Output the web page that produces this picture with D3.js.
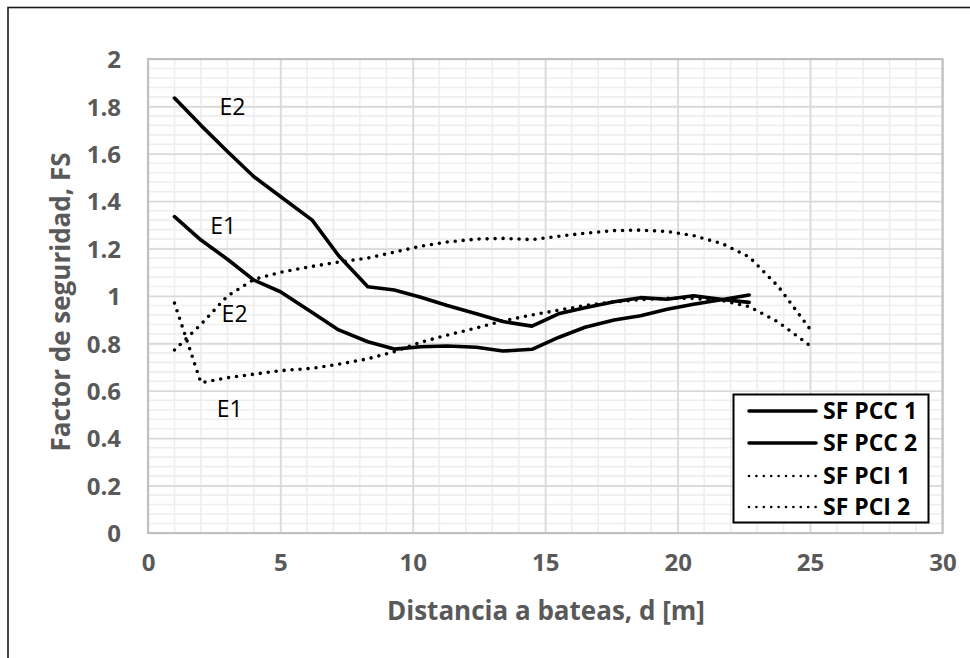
<!DOCTYPE html>
<html><head><meta charset="utf-8">
<script src="https://cdn.jsdelivr.net/npm/d3@7"></script>
<style>
  body { margin: 0; background: #fff; }
  svg { display: block; }
</style>
</head><body>
<svg id="chart" width="970" height="658"></svg>
<script>
// Distances to the bateas [m]
const distPCC = [1, 2, 3, 4, 5, 6.2, 7.2, 8.3, 9.3, 10.3, 11.3, 12.4, 13.4, 14.5, 15.5, 16.5, 17.6, 18.6, 19.6, 20.6, 21.7, 22.7];
const distPCI = [1, 2, 3, 4, 5, 6.2, 7.2, 8.3, 9.3, 10.3, 11.3, 12.4, 13.4, 14.5, 15.5, 16.5, 17.6, 18.6, 19.6, 20.6, 21.7, 22.7, 23.8, 25];

// Safety factor series
const sfPCC1 = [1.335, 1.236, 1.155, 1.067, 1.018, 0.93, 0.857, 0.807, 0.776, 0.786, 0.789, 0.784, 0.768, 0.775, 0.825, 0.868, 0.899, 0.917, 0.944, 0.965, 0.985, 1.004];
const sfPCC2 = [1.835, 1.72, 1.61, 1.503, 1.42, 1.32, 1.17, 1.039, 1.025, 0.995, 0.96, 0.925, 0.892, 0.873, 0.925, 0.95, 0.976, 0.993, 0.986, 1.001, 0.985, 0.973];
const sfPCI1 = [0.97, 0.634, 0.655, 0.67, 0.685, 0.695, 0.712, 0.735, 0.765, 0.805, 0.835, 0.865, 0.895, 0.92, 0.94, 0.96, 0.975, 0.985, 0.99, 0.99, 0.98, 0.955, 0.89, 0.79];
const sfPCI2 = [0.772, 0.88, 1.0, 1.07, 1.1, 1.125, 1.143, 1.16, 1.185, 1.21, 1.228, 1.24, 1.243, 1.238, 1.252, 1.265, 1.276, 1.278, 1.272, 1.255, 1.22, 1.165, 1.04, 0.86];

const seriesNames = ["SF PCC 1", "SF PCC 2", "SF PCI 1", "SF PCI 2"];
const xTicks = [0, 5, 10, 15, 20, 25, 30];
const yTicks = [0, 0.2, 0.4, 0.6, 0.8, 1, 1.2, 1.4, 1.6, 1.8, 2];

// Curve annotations: [label, distance, FS]
const annotations = [
  ["E2", 2.7, 1.765],
  ["E1", 2.35, 1.26],
  ["E2", 2.78, 0.889],
  ["E1", 2.6, 0.49]
];

const series = [
  { name: seriesNames[0], d: distPCC, v: sfPCC1, dotted: false },
  { name: seriesNames[1], d: distPCC, v: sfPCC2, dotted: false },
  { name: seriesNames[2], d: distPCI, v: sfPCI1, dotted: true },
  { name: seriesNames[3], d: distPCI, v: sfPCI2, dotted: true }
];

const FONT = "'Open Sans', 'DejaVu Sans', sans-serif";
const svg = d3.select("#chart");

const x = d3.scaleLinear().domain([0, 30]).range([148, 942.5]);
const y = d3.scaleLinear().domain([0, 2]).range([533, 59]);

// outer frame
svg.append("rect")
  .attr("x", 8).attr("y", 7.5).attr("width", 980).attr("height", 680)
  .attr("fill", "none").attr("stroke", "#1a1a1a").attr("stroke-width", 1.6);

const grid = svg.append("g");
// minor grid
grid.selectAll("line.vmin").data(d3.range(1, 30)).join("line")
  .attr("x1", d => x(d)).attr("x2", d => x(d)).attr("y1", y(0)).attr("y2", y(2))
  .attr("stroke", "#eeeeee").attr("stroke-width", 1.6);
grid.selectAll("line.hmin").data(d3.range(1, 50).map(i => i * 0.04)).join("line")
  .attr("y1", d => y(d)).attr("y2", d => y(d)).attr("x1", x(0)).attr("x2", x(30))
  .attr("stroke", "#eeeeee").attr("stroke-width", 1.6);

// major grid via axes
grid.append("g").attr("transform", `translate(0,${y(0)})`)
  .call(d3.axisBottom(x).tickValues(xTicks).tickSize(-(y(0) - y(2))).tickFormat(""))
  .call(g => g.select(".domain").remove())
  .call(g => g.selectAll("line").attr("stroke", "#d9d9d9").attr("stroke-width", 1.6));
grid.append("g").attr("transform", `translate(${x(0)},0)`)
  .call(d3.axisLeft(y).tickValues(yTicks).tickSize(-(x(30) - x(0))).tickFormat(""))
  .call(g => g.select(".domain").remove())
  .call(g => g.selectAll("line").attr("stroke", "#d9d9d9").attr("stroke-width", 1.6));

// plot area border
svg.append("rect")
  .attr("x", x(0)).attr("y", y(2)).attr("width", x(30) - x(0)).attr("height", y(0) - y(2))
  .attr("fill", "none").attr("stroke", "#bfbfbf").attr("stroke-width", 2);

// tick labels
const xAxis = svg.append("g").attr("transform", `translate(0,${y(0)})`)
  .call(d3.axisBottom(x).tickValues(xTicks).tickSize(0).tickPadding(29).tickFormat(d3.format("d")));
xAxis.select(".domain").remove();
xAxis.selectAll("text").attr("font-family", FONT).attr("font-size", 24)
  .attr("font-weight", "bold").attr("fill", "#595959").attr("dy", "0.36em");

const yAxis = svg.append("g").attr("transform", `translate(${x(0)},0)`)
  .call(d3.axisLeft(y).tickValues(yTicks).tickSize(0).tickPadding(27).tickFormat(d => String(+d.toFixed(1))));
yAxis.select(".domain").remove();
yAxis.selectAll("text").attr("font-family", FONT).attr("font-size", 24)
  .attr("font-weight", "bold").attr("fill", "#595959").attr("dy", "0.36em");

// axis titles
svg.append("text")
  .attr("x", 546).attr("y", 620).attr("text-anchor", "middle")
  .attr("font-family", FONT).attr("font-size", 26).attr("font-weight", "bold").attr("fill", "#595959")
  .text("Distancia a bateas, d [m]");
svg.append("text")
  .attr("transform", "translate(70,302) rotate(-90)").attr("text-anchor", "middle")
  .attr("font-family", FONT).attr("font-size", 26).attr("font-weight", "bold").attr("fill", "#595959")
  .text("Factor de seguridad, FS");

// series lines
const line = d3.line().x(p => x(p[0])).y(p => y(p[1]));
const linesG = svg.append("g");
series.forEach(s => {
  const pts = s.d.map((d, i) => [d, s.v[i]]);
  const path = linesG.append("path").datum(pts)
    .attr("d", line).attr("fill", "none").attr("stroke", "#000")
    .attr("stroke-linejoin", "round").attr("stroke-linecap", "round");
  if (s.dotted) {
    path.attr("stroke-width", 3.6).attr("stroke-dasharray", "0 8");
  } else {
    path.attr("stroke-width", 3.6);
  }
});

// curve annotations
svg.append("g").selectAll("text").data(annotations).join("text")
  .attr("x", d => x(d[1])).attr("y", d => y(d[2]))
  .attr("font-family", FONT).attr("font-size", 23).attr("fill", "#000")
  .text(d => d[0]);

// legend
const lg = svg.append("g");
lg.append("rect").attr("x", 733.5).attr("y", 394.5).attr("width", 195).attr("height", 128)
  .attr("fill", "#fff").attr("stroke", "#000").attr("stroke-width", 2);
const rowsY = [411, 443, 476, 507];
series.forEach((s, i) => {
  const ly = rowsY[i];
  const ln = lg.append("line").attr("x1", 749).attr("x2", 816).attr("y1", ly).attr("y2", ly)
    .attr("stroke", "#000").attr("stroke-linecap", "round");
  if (s.dotted) ln.attr("stroke-width", 2.6).attr("stroke-dasharray", "0 7.4");
  else ln.attr("stroke-width", 3.6);
  lg.append("text").attr("x", 823).attr("y", ly).attr("dy", "0.36em")
    .attr("font-family", FONT).attr("font-size", 23).attr("font-weight", "bold").attr("fill", "#000")
    .text(s.name);
});
</script>
</body></html>
